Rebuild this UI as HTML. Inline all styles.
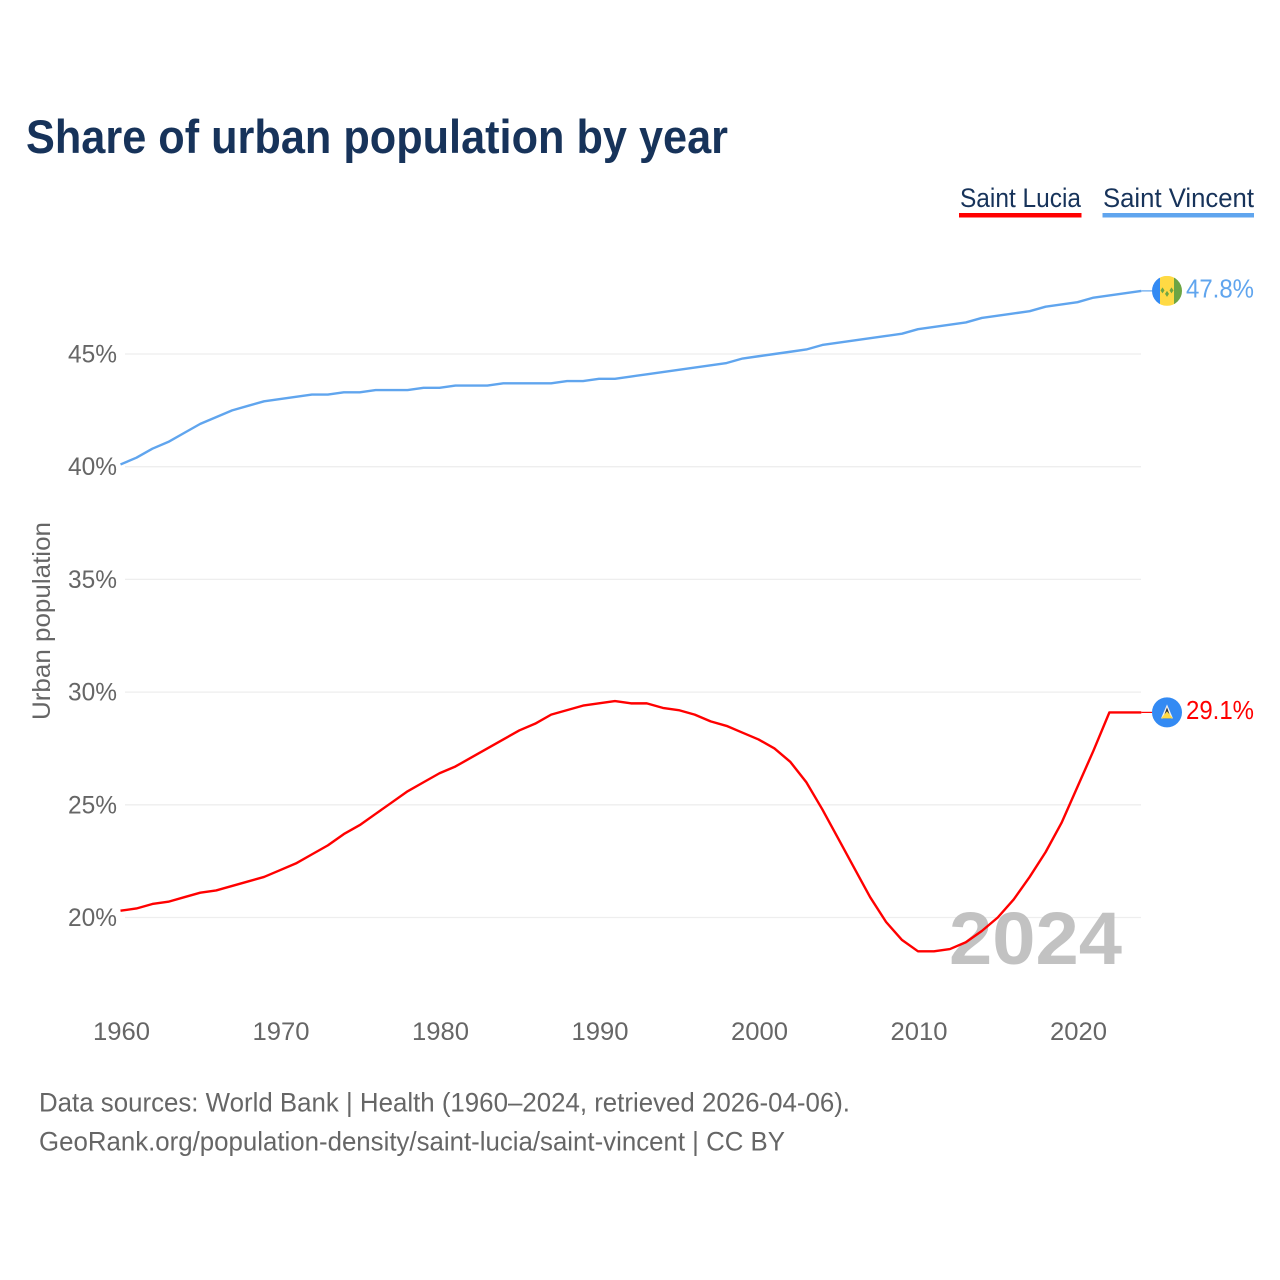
<!DOCTYPE html>
<html lang="en">
<head>
<meta charset="utf-8">
<title>Share of urban population by year</title>
<style>
html,body{margin:0;padding:0;background:#fff;width:1280px;height:1280px;overflow:hidden}
svg{display:block}
text{font-family:"Liberation Sans",sans-serif}
</style>
</head>
<body>
<svg id="chart" width="1280" height="1280" viewBox="0 0 1280 1280" xmlns="http://www.w3.org/2000/svg">
  <rect width="1280" height="1280" fill="#fff"/>
  <text x="26" y="153" font-size="47" font-weight="700" fill="#17335a" textLength="702" lengthAdjust="spacingAndGlyphs">Share of urban population by year</text>
  <g>
    <text x="960" y="207" font-size="27" fill="#17335a" textLength="121" lengthAdjust="spacingAndGlyphs">Saint Lucia</text>
    <rect x="959" y="213" width="122.500" height="4.500" fill="#ff0000"/>
  </g>
  <g>
    <text x="1103" y="207" font-size="27" fill="#17335a" textLength="151" lengthAdjust="spacingAndGlyphs">Saint Vincent</text>
    <rect x="1102.500" y="213" width="151.500" height="4.500" fill="#60a5ee"/>
  </g>
  <g id="grid"></g>
  <g id="yticks"></g>
  <g id="xticks"></g>
  <text transform="translate(50,720) rotate(-90)" font-size="25" fill="#666" textLength="198" lengthAdjust="spacingAndGlyphs">Urban population</text>
  <text x="949" y="964" font-size="74" font-weight="700" fill="#c2c2c2" textLength="173" lengthAdjust="spacingAndGlyphs">2024</text>
  <g id="series"></g>
  <g id="ends"></g>
  <text x="39" y="1111.500" font-size="27" fill="#666" textLength="811" lengthAdjust="spacingAndGlyphs">Data sources: World Bank | Health (1960–2024, retrieved 2026-04-06).</text>
  <text x="39" y="1150.500" font-size="27" fill="#666" textLength="746" lengthAdjust="spacingAndGlyphs">GeoRank.org/population-density/saint-lucia/saint-vincent | CC BY</text>
</svg>
<script>
const startYear = 1960;
const saintVincent = [40.1,40.4,40.8,41.1,41.5,41.9,42.2,42.5,42.7,42.9,43.0,43.1,43.2,43.2,43.3,43.3,43.4,43.4,43.4,43.5,43.5,43.6,43.6,43.6,43.7,43.7,43.7,43.7,43.8,43.8,43.9,43.9,44.0,44.1,44.2,44.3,44.4,44.5,44.6,44.8,44.9,45.0,45.1,45.2,45.4,45.5,45.6,45.7,45.8,45.9,46.1,46.2,46.3,46.4,46.6,46.7,46.8,46.9,47.1,47.2,47.3,47.5,47.6,47.7,47.8];
const saintLucia = [20.3,20.4,20.6,20.7,20.9,21.1,21.2,21.4,21.6,21.8,22.1,22.4,22.8,23.2,23.7,24.1,24.6,25.1,25.6,26.0,26.4,26.7,27.1,27.5,27.9,28.3,28.6,29.0,29.2,29.4,29.5,29.6,29.5,29.5,29.3,29.2,29.0,28.7,28.5,28.2,27.9,27.5,26.9,26.0,24.8,23.5,22.2,20.9,19.8,19.0,18.5,18.5,18.6,18.9,19.4,20.0,20.8,21.8,22.9,24.2,25.8,27.4,29.1,29.1,29.1];
const yTickValues = [20,25,30,35,40,45];
const xTickValues = [1960,1970,1980,1990,2000,2010,2020];

const NS = 'http://www.w3.org/2000/svg';
function xScale(year){ return 120.5 + (year - 1960) * 15.95; }
function yScale(v){ return 917.5 - (v - 20) * 22.54; }
function make(tag, attrs, parent){
  const el = document.createElementNS(NS, tag);
  for (const k in attrs) el.setAttribute(k, attrs[k]);
  parent.appendChild(el);
  return el;
}

const grid = document.getElementById('grid');
const yticks = document.getElementById('yticks');
const xticks = document.getElementById('xticks');
const seriesGroup = document.getElementById('series');
const ends = document.getElementById('ends');

yTickValues.forEach(function(v){
  const line = make('line', {x1:125, x2:1141, y1:yScale(v), y2:yScale(v), stroke:'#eeeeee', 'stroke-width':1.3}, grid);
  
  
  const t = make('text', {x:68, y:yScale(v)+8.5, 'font-size':25, fill:'#666', textLength:49, lengthAdjust:'spacingAndGlyphs'}, yticks);
  
  
  t.textContent = v + '%';
});

xTickValues.forEach(function(y){
  const t = make('text', {x:xScale(y)+1, y:1040, 'font-size':25, fill:'#666', 'text-anchor':'middle', textLength:57, lengthAdjust:'spacingAndGlyphs'}, xticks);
  
  
  t.textContent = y;
});

function pathFor(values){
  return values.map(function(v,i){
    return (i ? 'L' : 'M') + xScale(startYear + i).toFixed(2) + ' ' + yScale(v).toFixed(2);
  }).join(' ');
}
function drawSeries(values, color){
  return make('path', {d:pathFor(values), fill:'none', stroke:color, 'stroke-width':2.4, 'stroke-linejoin':'round'}, seriesGroup);
}
const lineLucia = drawSeries(saintLucia, '#ff0000');


const lineVincent = drawSeries(saintVincent, '#60a5ee');



function lastOf(values){ return values[values.length - 1]; }
function lastX(values){ return xScale(startYear + values.length - 1); }

function drawEnd(values, color){
  const v = lastOf(values), x0 = lastX(values), y0 = yScale(v), cx = 1167;
  const conn = make('line', {x1:x0, x2:cx-15, y1:y0, y2:y0, stroke:color, 'stroke-width':1.2}, ends);
  
  
  const label = make('text', {x:1186, y:y0+6.5, 'font-size':26, fill:color, textLength:68, lengthAdjust:'spacingAndGlyphs'}, ends);
  
  
  label.textContent = v.toFixed(1) + '%';
  return y0;
}

const yV = drawEnd(saintVincent, '#60a5ee');
const yL = drawEnd(saintLucia, '#ff0000');

const flagV = make('g', {transform:'translate(1167,' + yV + ')'}, ends);


make('clipPath', {id:'clipV'}, flagV).appendChild(document.createElementNS(NS,'circle')).setAttribute('r', 15);
const fv = make('g', {'clip-path':'url(#clipV)'}, flagV);
make('rect', {x:-15, y:-15, width:8, height:30, fill:'#338af3'}, fv);
make('rect', {x:-7, y:-15, width:15, height:30, fill:'#ffda44'}, fv);
make('rect', {x:7, y:-15, width:8, height:30, fill:'#6da544'}, fv);
make('path', {d:'M-4.500 -3.500 l2 3 l-2 3 l-2 -3 Z M4.500 -3.500 l2 3 l-2 3 l-2 -3 Z M0 0 l2 3 l-2 3 l-2 -3 Z', fill:'#6da544'}, fv);

const flagL = make('g', {transform:'translate(1167,' + yL + ')'}, ends);


make('circle', {r:15, fill:'#338af3'}, flagL);
make('path', {d:'M-6 6 L0 -8 L6 6 Z', fill:'#f0f0f0'}, flagL);
make('path', {d:'M-4 6 L0 -5 L4 6 Z', fill:'#333'}, flagL);
make('path', {d:'M-6 6 L0 -1 L6 6 Z', fill:'#ffda44'}, flagL);
</script>
</body>
</html>
